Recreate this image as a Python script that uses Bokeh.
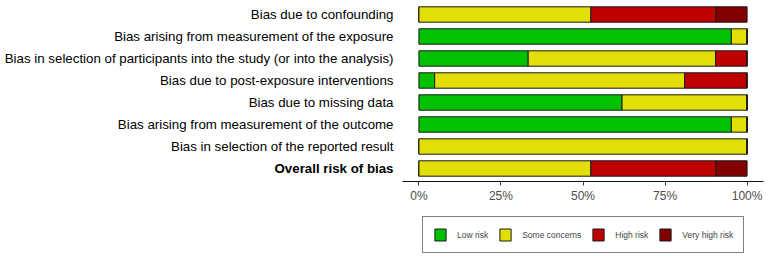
from bokeh.plotting import figure
from bokeh.models import (Range1d, ColumnDataSource, LabelSet, FixedTicker,
                          Legend, LegendItem)
from bokeh.core.properties import value
from bokeh.embed import file_html
from bokeh.resources import INLINE

domains = [
    "Bias due to confounding",
    "Bias arising from measurement of the exposure",
    "Bias in selection of participants into the study (or into the analysis)",
    "Bias due to post-exposure interventions",
    "Bias due to missing data",
    "Bias arising from measurement of the outcome",
    "Bias in selection of the reported result",
    "Overall risk of bias",
]
low_risk = [0, 95.2, 33.3, 4.8, 61.9, 95.2, 0, 0]
some_concerns = [52.4, 4.8, 57.1, 76.2, 38.1, 4.8, 100, 52.4]
high_risk = [38.1, 0, 9.6, 19.0, 0, 0, 0, 38.1]
very_high_risk = [9.5, 0, 0, 0, 0, 0, 0, 9.5]
categories = ["Low risk", "Some concerns", "High risk", "Very high risk"]
colors = ["#02C100", "#E2DF07", "#BF0000", "#820000"]
tick_values = [0, 25, 50, 75, 100]
tick_labels = ["0%", "25%", "50%", "75%", "100%"]

W, H = 766, 258
# panel geometry (pixels) of the bar area
PX0, PX1 = 402, 763          # panel left/right  (x = -5 .. 105)
ROW0, ROWSTEP = 14, 22       # first row centre, row spacing
XMIN, XMAX = -5, 105
upp = (XMAX - XMIN) / (PX1 - PX0)

rows = list(range(1, len(domains) + 1))
source = ColumnDataSource(dict(row=rows, low=low_risk, some=some_concerns,
                               high=high_risk, vhigh=very_high_risk))

x_range = Range1d(XMIN - PX0 * upp, XMAX + (W - PX1) * upp)
y_range = Range1d(1 + (H - ROW0) / ROWSTEP, 1 - ROW0 / ROWSTEP)

p = figure(width=W, height=H, output_backend="svg", toolbar_location=None,
           x_range=x_range, y_range=y_range,
           min_border_left=0, min_border_right=0, min_border_top=0,
           min_border_bottom=0)
p.outline_line_color = None
p.xgrid.visible = False
p.ygrid.visible = False
p.yaxis.visible = False

renderers = p.hbar_stack(["low", "some", "high", "vhigh"], y="row", height=0.7,
                         fill_color=colors, line_color="#1a1a1a", line_width=1,
                         source=source)

xa = p.xaxis[0]
xa.fixed_location = len(domains) + 0.6
xa.bounds = (XMIN, XMAX)
xa.ticker = FixedTicker(ticks=tick_values)
xa.major_label_overrides = {v: l for v, l in zip(tick_values, tick_labels)}
xa.minor_tick_line_color = None
xa.major_tick_in = 0
xa.major_tick_out = 4
xa.major_tick_line_color = "#333333"
xa.axis_line_color = "#111111"
xa.axis_line_width = 1.2
xa.major_label_text_color = "#4D4D4D"
xa.major_label_text_font = "Liberation Sans"
xa.major_label_text_font_size = "12px"
xa.major_label_standoff = 3

normal_src = ColumnDataSource(dict(x=[XMIN] * (len(domains) - 1), y=rows[:-1],
                                   t=domains[:-1]))
bold_src = ColumnDataSource(dict(x=[XMIN], y=rows[-1:], t=domains[-1:]))
for src, style in ((normal_src, "normal"), (bold_src, "bold")):
    p.add_layout(LabelSet(x="x", y="y", text="t", source=src, x_offset=-9,
                          text_align="right", text_baseline="middle",
                          text_font=value("Liberation Sans"),
                          text_font_size=value("13.3px"),
                          text_font_style=value(style),
                          text_color=value("black")))

legend = Legend(items=[LegendItem(label=c, renderers=[r])
                       for c, r in zip(categories, renderers)],
                orientation="horizontal", location=(422, 5),
                glyph_width=14, glyph_height=15, label_height=15,
                label_standoff=10, spacing=10, padding=10, margin=0,
                label_text_font="Liberation Sans", label_text_font_size="8.5px",
                label_text_baseline="middle",
                border_line_color="black", border_line_width=1,
                background_fill_color="white", background_fill_alpha=1)
p.add_layout(legend)

open("out.html", "w").write(file_html(p, INLINE))
